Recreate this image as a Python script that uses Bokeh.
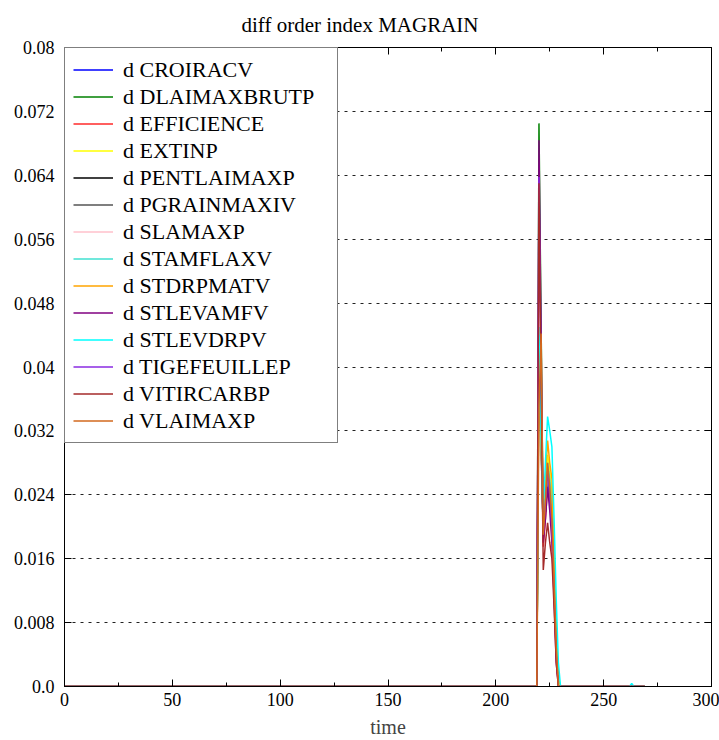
from bokeh.plotting import figure
from bokeh.models import FixedTicker, LinearAxis, Legend, LegendItem, Range1d, Title
from bokeh.embed import file_html
from bokeh.resources import INLINE

# ---- data ----
TIME = list(range(0, 270))
SPIKE_T = [219, 220, 221, 222, 223, 224, 225, 226, 227, 228, 229, 230, 231]

LABELS = ["d CROIRACV", "d DLAIMAXBRUTP", "d EFFICIENCE", "d EXTINP", "d PENTLAIMAXP",
          "d PGRAINMAXIV", "d SLAMAXP", "d STAMFLAXV", "d STDRPMATV", "d STLEVAMFV",
          "d STLEVDRPV", "d TIGEFEUILLEP", "d VITIRCARBP", "d VLAIMAXP"]
COLORS = ["#0000FF", "#008000", "#FF2A2A", "#FFFF00", "#000000",
          "#555555", "#FFC0CB", "#40E0D0", "#FFA500", "#800080",
          "#00FFFF", "#8A2BE2", "#A52A2A", "#D2691E"]

croiracv     = [0, 0.052, 0.034, 0.019, 0.023, 0.027, 0.025, 0.022, 0.014, 0.006, 0, 0, 0]
dlaimaxbrutp = [0, 0.0705, 0.045, 0.019, 0.022, 0.026, 0.024, 0.021, 0.013, 0.005, 0, 0, 0]
efficience   = [0, 0.056, 0.036, 0.0175, 0.021, 0.025, 0.023, 0.020, 0.012, 0.004, 0, 0, 0]
extinp       = [0, 0.046, 0.033, 0.020, 0.025, 0.029, 0.027, 0.024, 0.015, 0.006, 0, 0, 0]
pentlaimaxp  = [0, 0.042, 0.030, 0.019, 0.022, 0.026, 0.024, 0.021, 0.013, 0.005, 0, 0, 0]
pgrainmaxiv  = [0, 0.043, 0.031, 0.019, 0.022, 0.026, 0.024, 0.021, 0.013, 0.005, 0, 0, 0]
slamaxp      = [0, 0.048, 0.032, 0.019, 0.023, 0.027, 0.025, 0.022, 0.013, 0.005, 0, 0, 0]
stamflaxv    = [0, 0.045, 0.032, 0.020, 0.024, 0.028, 0.026, 0.023, 0.014, 0.006, 0, 0, 0]
stdrpmatv    = [0, 0.040, 0.030, 0.021, 0.026, 0.0308, 0.028, 0.026, 0.016, 0.007, 0.001, 0, 0]
stlevamfv    = [0, 0.0684, 0.043, 0.018, 0.021, 0.025, 0.022, 0.018, 0.011, 0.003, 0, 0, 0]
stlevdrpv    = [0, 0.044, 0.031, 0.022, 0.028, 0.0338, 0.032, 0.030, 0.021, 0.011, 0.003, 0, 0]
tigefeuillep = [0, 0.0638, 0.040, 0.019, 0.023, 0.027, 0.024, 0.020, 0.012, 0.004, 0, 0, 0]
vitircarbp   = [0, 0.063, 0.038, 0.0146, 0.018, 0.0205, 0.018, 0.016, 0.010, 0.003, 0, 0, 0]
vlaimaxp     = [0, 0.035, 0.0442, 0.019, 0.023, 0.028, 0.025, 0.021, 0.013, 0.005, 0, 0, 0]
STLEVDRPV_LATE_T = [262, 263, 264]
STLEVDRPV_LATE_V = [0, 0.0004, 0]

SERIES = [croiracv, dlaimaxbrutp, efficience, extinp, pentlaimaxp, pgrainmaxiv, slamaxp,
          stamflaxv, stdrpmatv, stlevamfv, stlevdrpv, tigefeuillep, vitircarbp, vlaimaxp]

XTICKS = [0, 50, 100, 150, 200, 250, 300]
XMINOR = [25, 75, 125, 175, 225, 275]
YTICKS = [0.0, 0.008, 0.016, 0.024, 0.032, 0.04, 0.048, 0.056, 0.064, 0.072, 0.08]
YLABELS = ["0.0", "0.008", "0.016", "0.024", "0.032", "0.04", "0.048", "0.056", "0.064", "0.072", "0.08"]

FONT = "Liberation Serif"

p = figure(width=719, height=740, x_range=Range1d(0, 300), y_range=Range1d(0, 0.08),
           output_backend="svg", toolbar_location=None, title=None,
           min_border_left=64, min_border_right=8, min_border_top=47, min_border_bottom=54)
p.background_fill_color = "white"
p.outline_line_color = "black"
p.outline_line_width = 1

# bottom axis
xa = p.xaxis[0]
xa.ticker = FixedTicker(ticks=XTICKS, minor_ticks=XMINOR)
xa.major_tick_in = 7
xa.major_tick_out = 0
xa.minor_tick_in = 4
xa.minor_tick_out = 0
xa.major_label_standoff = 6
xa.major_label_text_font = FONT
xa.major_label_text_font_size = "18px"
xa.major_label_text_color = "black"
xa.axis_label = "time"
xa.axis_label_text_font = FONT
xa.axis_label_text_font_size = "20px"
xa.axis_label_text_font_style = "normal"
xa.axis_label_standoff = 7
xa.axis_line_color = "black"

# left axis
ya = p.yaxis[0]
ya.ticker = FixedTicker(ticks=YTICKS)
ya.major_label_overrides = {t: l for t, l in zip(YTICKS, YLABELS)}
ya.major_tick_in = 7
ya.major_tick_out = 0
ya.minor_tick_in = 0
ya.minor_tick_out = 0
ya.major_label_standoff = 10
ya.major_label_text_font = FONT
ya.major_label_text_font_size = "18px"
ya.major_label_text_color = "black"
ya.axis_line_color = "black"

# mirrored axes (ticks only, empty labels)
ra = LinearAxis(ticker=FixedTicker(ticks=YTICKS),
                major_label_overrides={t: "" for t in YTICKS},
                major_tick_in=7, major_tick_out=0, minor_tick_in=0, minor_tick_out=0,
                major_label_standoff=0, axis_line_color="black")
p.add_layout(ra, "right")
ta = LinearAxis(ticker=FixedTicker(ticks=XTICKS, minor_ticks=XMINOR),
                major_label_overrides={t: "" for t in XTICKS},
                major_tick_in=7, major_tick_out=0, minor_tick_in=4, minor_tick_out=0,
                major_label_standoff=0, axis_line_color="black")
p.add_layout(ta, "above")

title = Title(text="diff order index MAGRAIN", align="left", offset=177, standoff=21,
              text_font=FONT, text_font_size="21px", text_font_style="normal",
              text_color="black")
p.add_layout(title, "above")

p.xgrid.visible = False
p.ygrid.ticker = FixedTicker(ticks=YTICKS)
p.ygrid.grid_line_color = "#222222"
p.ygrid.grid_line_dash = "3 5"
p.ygrid.grid_line_width = 1

items = []
for lab, col, vals in zip(LABELS, COLORS, SERIES):
    y = [0.0] * len(TIME)
    for t, v in zip(SPIKE_T, vals):
        y[TIME.index(t)] = v
    if lab == "d STLEVDRPV":
        for t, v in zip(STLEVDRPV_LATE_T, STLEVDRPV_LATE_V):
            y[TIME.index(t)] = v
    r = p.line(TIME, y, line_color=col, line_width=1.5)
    items.append(LegendItem(label=lab, renderers=[r]))

legend = Legend(items=items, location="top_left", margin=0, padding=8, spacing=0,
                glyph_width=40, glyph_height=27, label_height=27, label_standoff=10,
                label_width=206,
                label_text_font=FONT, label_text_font_size="22px", label_text_color="black",
                border_line_color="black", border_line_width=1,
                background_fill_color="white", background_fill_alpha=1.0)
p.add_layout(legend)

open("out.html", "w").write(file_html(p, INLINE))
